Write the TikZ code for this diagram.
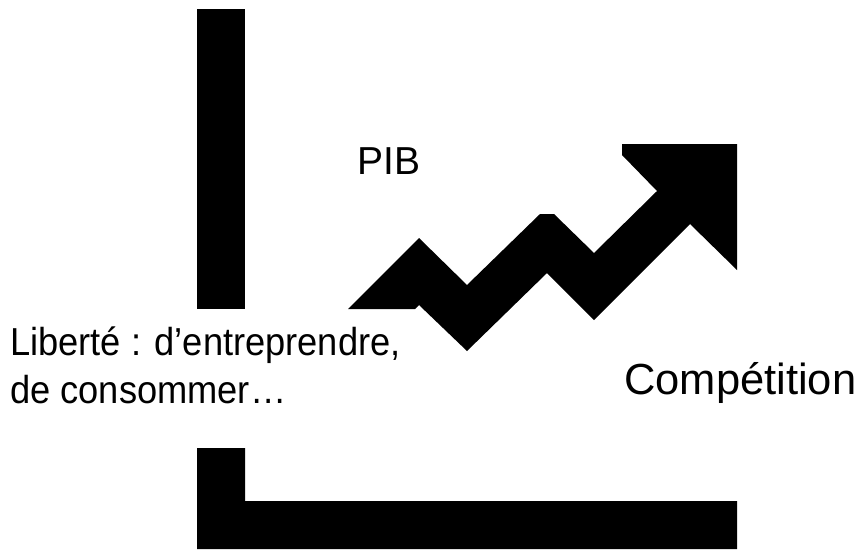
\documentclass[tikz,border=0pt]{standalone}
\usepackage{fontspec}
\setmainfont{Liberation Sans}
\newfontfamily\narrowsans[FakeStretch=0.93]{Liberation Sans}
\begin{document}
\begin{tikzpicture}[x=1pt,y=-1pt,
  bar/.style={fill=black,draw=none},
  lbl/.style={anchor=base west,inner sep=0pt,font=\fontsize{39}{48}\selectfont},
  biglbl/.style={lbl,font=\fontsize{43.5}{52}\selectfont},
  narrowlbl/.style={lbl,font=\narrowsans\fontsize{39}{48}\selectfont}]
\useasboundingbox (0,0) rectangle (859,550);
% top vertical bar
\fill[bar] (197,9) rectangle (245,309);
% bottom L
\fill[bar] (197,448) -- (245,448) -- (245,501) -- (737,501) -- (737,549) -- (197,549) -- cycle;
% zigzag arrow
\fill[bar] (348,309) -- (419,238) -- (467,285) -- (540,214) -- (554,214) -- (594,253)
  -- (657,191) -- (622,155) -- (622,144) -- (737,144) -- (737,270) -- (690,224)
  -- (594,320) -- (547,273) -- (467,351) -- (419,305) -- (415,309) -- cycle;
\node[lbl] (pib) at (357,174) {PIB};
\node[biglbl] (comp) at (624,394) {Compétition};
\node[narrowlbl] (lib1) at (10,355) {Liberté : d’entreprendre,};
\node[narrowlbl] (lib2) at (10,403) {de consommer…};
\end{tikzpicture}
\end{document}
